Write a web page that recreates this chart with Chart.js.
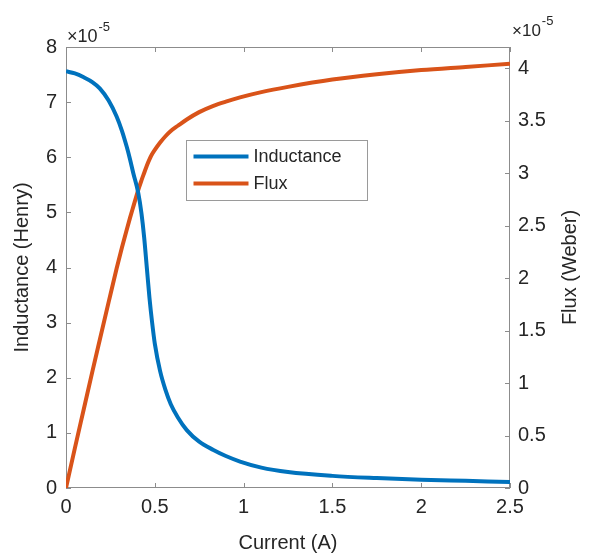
<!DOCTYPE html>
<html><head><meta charset="utf-8">
<script src="https://cdn.jsdelivr.net/npm/chart.js@4.4.1/dist/chart.umd.min.js"></script>
<style>html,body{margin:0;padding:0;background:#fff}</style>
</head><body>
<canvas id="c" width="590" height="560"></canvas>
<script>
// Current (A)
const current    = [0, 0.05, 0.1, 0.15, 0.19, 0.24, 0.285, 0.315, 0.342, 0.36, 0.379, 0.407, 0.425, 0.44, 0.455, 0.47, 0.485, 0.5, 0.53, 0.56, 0.59, 0.63, 0.68, 0.75, 0.83, 0.9, 0.98, 1.1, 1.25, 1.5, 1.75, 2.0, 2.25, 2.5];
// Inductance, in units of 1e-5 H
const inductance = [7.56, 7.52, 7.45, 7.36, 7.25, 7.03, 6.74, 6.48, 6.19, 5.97, 5.71, 5.35, 4.98, 4.55, 4.0, 3.45, 3.0, 2.62, 2.12, 1.78, 1.52, 1.28, 1.05, 0.84, 0.69, 0.58, 0.48, 0.37, 0.29, 0.22, 0.18, 0.15, 0.13, 0.11];
// Flux, in units of 1e-5 Wb
const flux       = [0, 0.38, 0.75, 1.12, 1.41, 1.77, 2.09, 2.29, 2.46, 2.57, 2.68, 2.84, 2.93, 3.0, 3.07, 3.13, 3.18, 3.22, 3.29, 3.35, 3.40, 3.45, 3.51, 3.58, 3.64, 3.68, 3.72, 3.77, 3.82, 3.89, 3.94, 3.98, 4.01, 4.04];

const seriesNames = ['Inductance', 'Flux'];
const xTicks = [0, 0.5, 1, 1.5, 2, 2.5];
const yLeftTicks = [0, 1, 2, 3, 4, 5, 6, 7, 8];
const yRightTicks = [0, 0.5, 1, 1.5, 2, 2.5, 3, 3.5, 4];
const xTitle = 'Current (A)';
const yLeftTitle = 'Inductance (Henry)';
const yRightTitle = 'Flux (Weber)';
const exponentBase = '\u00d710';
const exponentPower = '-5';

const FONT = "'Liberation Sans', Arial, Helvetica, sans-serif";
const TXT = '#262626';
const AXC = '#8c8c8c';
const BLUE = '#0072BD';
const ORANGE = '#D95319';

const toPts = ys => current.map((x, i) => ({x, y: ys[i]}));
const fmt = v => String(Math.round(v * 100) / 100);

const framePlugin = {
  id: 'frame',
  beforeDatasetsDraw(chart) {
    const {ctx, chartArea: a, scales} = chart;
    ctx.save();
    ctx.strokeStyle = AXC;
    ctx.lineWidth = 1;
    ctx.strokeRect(Math.round(a.left) + 0.5, Math.round(a.top) + 0.5, Math.round(a.right - a.left) - 1, Math.round(a.bottom - a.top) - 1);
    const L = 5;
    ctx.beginPath();
    scales.x.ticks.forEach((t, i) => {
      const px = Math.round(scales.x.getPixelForTick(i)) + 0.5;
      ctx.moveTo(px, a.bottom); ctx.lineTo(px, a.bottom - L);
      ctx.moveTo(px, a.top); ctx.lineTo(px, a.top + L);
    });
    scales.y.ticks.forEach((t, i) => {
      const py = Math.round(scales.y.getPixelForTick(i)) + 0.5;
      ctx.moveTo(a.left, py); ctx.lineTo(a.left + L, py);
    });
    scales.y2.ticks.forEach((t, i) => {
      const py = Math.round(scales.y2.getPixelForTick(i)) + 0.5;
      ctx.moveTo(a.right, py); ctx.lineTo(a.right - L, py);
    });
    ctx.stroke();
    ctx.restore();
  },
  afterDraw(chart) {
    const {ctx, chartArea: a} = chart;
    ctx.save();
    ctx.fillStyle = TXT;
    ctx.textBaseline = 'alphabetic';
    ctx.textAlign = 'left';
    ctx.font = '18px ' + FONT;
    ctx.fillText(exponentBase, a.left + 1, a.top - 5);
    let w = ctx.measureText(exponentBase).width;
    ctx.font = '13px ' + FONT;
    ctx.fillText(exponentPower, a.left + 2 + w, a.top - 16);
    ctx.font = '17px ' + FONT;
    ctx.fillText(exponentBase, a.right + 2, a.top - 11);
    w = ctx.measureText(exponentBase).width;
    ctx.font = '13px ' + FONT;
    ctx.fillText(exponentPower, a.right + 3 + w, a.top - 22);
    ctx.font = '20px ' + FONT;
    ctx.textAlign = 'center';
    ctx.textBaseline = 'middle';
    ctx.translate(570, (a.top + a.bottom) / 2);
    ctx.rotate(-Math.PI / 2);
    ctx.fillText(yRightTitle, 0, 0);
    ctx.restore();

    ctx.save();
    const bx = 186.5, by = 140.5, bw = 181, bh = 60;
    ctx.fillStyle = '#fff';
    ctx.fillRect(bx, by, bw, bh);
    ctx.strokeStyle = '#9a9a9a';
    ctx.lineWidth = 1;
    ctx.strokeRect(bx, by, bw, bh);
    ctx.font = '18px ' + FONT;
    ctx.textAlign = 'left';
    ctx.textBaseline = 'middle';
    chart.data.datasets.forEach((ds, i) => {
      const yy = by + 16 + i * 27;
      ctx.strokeStyle = ds.borderColor;
      ctx.lineWidth = 4;
      ctx.beginPath();
      ctx.moveTo(bx + 7, yy); ctx.lineTo(bx + 62, yy);
      ctx.stroke();
      ctx.fillStyle = TXT;
      ctx.fillText(ds.label, bx + 67, yy + 1);
    });
    ctx.restore();
  }
};

new Chart(document.getElementById('c'), {
  type: 'line',
  data: {
    datasets: [
      {label: seriesNames[0], data: toPts(inductance), yAxisID: 'y', borderColor: BLUE, borderWidth: 4, pointRadius: 0, cubicInterpolationMode: 'monotone', fill: false},
      {label: seriesNames[1], data: toPts(flux), yAxisID: 'y2', borderColor: ORANGE, borderWidth: 4, pointRadius: 0, cubicInterpolationMode: 'monotone', fill: false}
    ]
  },
  options: {
    responsive: false,
    animation: false,
    layout: {padding: {top: 47, left: 0, right: 0, bottom: 0}},
    plugins: {legend: {display: false}, tooltip: {enabled: false}},
    scales: {
      x: {
        type: 'linear', min: 0, max: 2.5,
        afterBuildTicks: s => { s.ticks = xTicks.map(v => ({value: v})); },
        afterFit: s => { s.height = 72; },
        grid: {display: false, drawTicks: false},
        border: {display: false},
        ticks: {color: TXT, font: {family: FONT, size: 20}, padding: 7, maxRotation: 0, callback: v => fmt(v)},
        title: {display: true, text: xTitle, color: TXT, font: {family: FONT, size: 20}, padding: {top: 0, bottom: 5}}
      },
      y: {
        type: 'linear', position: 'left', min: 0, max: 8,
        afterBuildTicks: s => { s.ticks = yLeftTicks.map(v => ({value: v})); },
        afterFit: s => { s.width = 66; },
        grid: {display: false, drawTicks: false},
        border: {display: false},
        ticks: {color: TXT, font: {family: FONT, size: 20}, padding: 9, callback: v => fmt(v)},
        title: {display: true, text: yLeftTitle, color: TXT, font: {family: FONT, size: 20}, padding: {top: 10, bottom: 0}}
      },
      y2: {
        type: 'linear', position: 'right', min: 0, max: 4.2,
        afterBuildTicks: s => { s.ticks = yRightTicks.map(v => ({value: v})); },
        afterFit: s => { s.width = 80; },
        grid: {display: false, drawTicks: false},
        border: {display: false},
        ticks: {color: TXT, font: {family: FONT, size: 20}, padding: 8, callback: v => fmt(v)},
        title: {display: false}
      }
    }
  },
  plugins: [framePlugin]
});
</script>
</body></html>
